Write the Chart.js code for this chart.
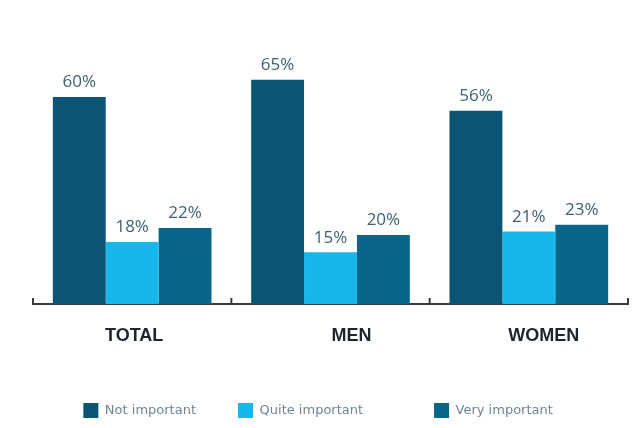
<!DOCTYPE html>
<html>
<head>
<meta charset="utf-8">
<script src="https://cdn.jsdelivr.net/npm/chart.js@4.4.1/dist/chart.umd.min.js"></script>
<style>
  html, body { margin: 0; padding: 0; background: #fff; overflow: hidden; }
  #wrap { width: 639px; height: 428px; }
</style>
</head>
<body>
<div id="wrap"><canvas id="chart" width="639" height="428"></canvas></div>
<script>
const groups = ["TOTAL", "MEN", "WOMEN"];
const seriesNames = ["Not important", "Quite important", "Very important"];
const notImportant = [60, 65, 56];
const quiteImportant = [18, 15, 21];
const veryImportant = [22, 20, 23];
const colors = ["#0b5473", "#17b7eb", "#0a6688"];

// extra blank space after each legend entry (legend items are not evenly spread)
const legendGaps = [8, 15, 6];
// group names sit a little right of the group centre
const groupNudge = [2, 21, 15];

// percent labels sitting on top of each bar
const valueLabels = {
    id: "valueLabels",
    afterDatasetsDraw(chart) {
        const ctx = chart.ctx;
        ctx.save();
        ctx.font = "17px 'Open Sans', sans-serif";
        ctx.fillStyle = "#3b6174";
        ctx.textAlign = "center";
        ctx.textBaseline = "bottom";
        chart.data.datasets.forEach((ds, i) => {
            chart.getDatasetMeta(i).data.forEach((bar, j) => {
                ctx.fillText(ds.data[j] + "%", bar.x, bar.y - 6);
            });
        });
        ctx.restore();
    }
};

// baseline hooks at the group boundaries and the group names under it
const baseAxis = {
    id: "baseAxis",
    afterDraw(chart) {
        const x = chart.scales.x;
        const ctx = chart.ctx;
        const step = (x.right - x.left) / groups.length;
        ctx.save();
        ctx.strokeStyle = "#3a3a3a";
        ctx.lineWidth = 2;
        for (let k = 0; k <= groups.length; k++) {
            const px = x.left + step * k;
            ctx.beginPath();
            ctx.moveTo(px, x.top);
            ctx.lineTo(px, x.top - 6);
            ctx.stroke();
        }
        ctx.font = "bold 18px 'Liberation Sans', sans-serif";
        ctx.fillStyle = "#1b252b";
        ctx.textAlign = "center";
        ctx.textBaseline = "middle";
        groups.forEach((g, i) => {
            ctx.fillText(g, x.getPixelForValue(i) + groupNudge[i], x.top + 32);
        });
        ctx.restore();
    }
};

new Chart(document.getElementById("chart"), {
    type: "bar",
    data: {
        labels: groups,
        datasets: [
            { label: seriesNames[0], data: notImportant, backgroundColor: colors[0] },
            { label: seriesNames[1], data: quiteImportant, backgroundColor: colors[1] },
            { label: seriesNames[2], data: veryImportant, backgroundColor: colors[2] }
        ]
    },
    options: {
        responsive: false,
        animation: false,
        layout: { padding: { left: 33, right: 11, top: 28, bottom: 0 } },
        datasets: { bar: { categoryPercentage: 0.8, barPercentage: 1 } },
        plugins: {
            tooltip: { enabled: false },
            legend: {
                position: "bottom",
                labels: {
                    boxWidth: 15,
                    boxHeight: 15,
                    padding: 9,
                    color: "#6f8593",
                    font: { size: 13, family: "'DejaVu Sans', sans-serif" },
                    generateLabels(chart) {
                        const items = Chart.defaults.plugins.legend.labels.generateLabels(chart);
                        items.forEach((it, i) => {
                            it.text = it.text + " ".repeat(legendGaps[i]);
                            it.lineWidth = 0;
                        });
                        return items;
                    }
                }
            }
        },
        scales: {
            x: {
                grid: { display: false, drawTicks: false },
                border: { display: true, color: "#3a3a3a", width: 2 },
                ticks: { display: false },
                afterFit(scale) {
                    scale.height = 90;
                }
            },
            y: {
                display: false,
                min: 0,
                max: 80
            }
        }
    },
    plugins: [valueLabels, baseAxis]
});
</script>
</body>
</html>
